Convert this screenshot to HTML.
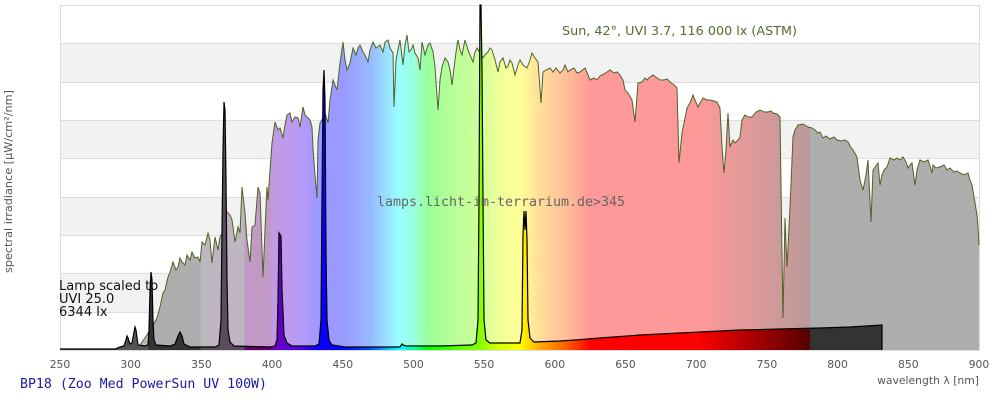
<!DOCTYPE html>
<html><head><meta charset="utf-8"><style>
html,body{margin:0;padding:0;background:#fff;}
svg{display:block;}
</style></head><body>
<svg width="1000" height="400" viewBox="0 0 1000 400" xmlns="http://www.w3.org/2000/svg">
<defs>
<linearGradient id="spec" gradientUnits="userSpaceOnUse" x1="60" y1="0" x2="979" y2="0">
<stop offset="0" stop-color="#555555"/>
<stop offset="0.09538" stop-color="#555555"/>
<stop offset="0.09692" stop-color="#333333"/>
<stop offset="0.15231" stop-color="#333333"/>
<stop offset="0.15385" stop-color="#5e4a60"/>
<stop offset="0.2" stop-color="#5e4a60"/>
<stop offset="0.20154" stop-color="#64006b"/>
<stop offset="0.22769" stop-color="#64006b"/>
<stop offset="0.23077" stop-color="#6b00b1"/>
<stop offset="0.26154" stop-color="#5000ed"/>
<stop offset="0.28" stop-color="#0a00ff"/>
<stop offset="0.30769" stop-color="#0000ff"/>
<stop offset="0.32308" stop-color="#002aff"/>
<stop offset="0.33846" stop-color="#0055ff"/>
<stop offset="0.35385" stop-color="#00aaff"/>
<stop offset="0.36923" stop-color="#00ffff"/>
<stop offset="0.38462" stop-color="#00ffaa"/>
<stop offset="0.4" stop-color="#00ff00"/>
<stop offset="0.41538" stop-color="#2aff00"/>
<stop offset="0.43077" stop-color="#55ff00"/>
<stop offset="0.45538" stop-color="#80ff00"/>
<stop offset="0.47692" stop-color="#d4ff00"/>
<stop offset="0.5" stop-color="#ffff00"/>
<stop offset="0.52308" stop-color="#ffaa00"/>
<stop offset="0.53846" stop-color="#ff8000"/>
<stop offset="0.55385" stop-color="#ff5500"/>
<stop offset="0.57692" stop-color="#ff0000"/>
<stop offset="0.69231" stop-color="#ff0000"/>
<stop offset="0.81538" stop-color="#550000"/>
<stop offset="0.81692" stop-color="#333333"/>
<stop offset="1" stop-color="#333333"/>
</linearGradient>
<clipPath id="sunClip"><polygon points="133,350 140,345 147,335 153,325 157,318 160,307 163,293 165,290 168,277 170,272 173,262 176,270 178,267 180,258 182,262 185,265 187,255 190,260 192,252 195,258 198,257 200,262 202,242 205,245 208,233 210,240 212,263 215,237 218,250 220,237 223,232 225,207 227,212 230,215 232,220 235,242 238,227 240,233 242,187 245,213 247,240 250,262 252,227 255,225 258,187 260,193 263,277 265,230 267,187 268,200 270,170 272,143 275,122 278,130 280,128 283,138 285,125 287,115 290,113 292,122 295,117 298,118 300,127 303,107 305,115 307,117 310,120 312,127 313,148 315,175 317,198 318,140 320,123 323,118 325,113 328,123 330,100 333,80 335,85 337,90 340,63 343,42 345,60 347,70 350,63 353,48 356,55 358,48 360,45 363,52 365,55 368,62 370,50 373,42 376,48 380,45 383,52 385,42 388,40 390,48 393,53 394,107 396,60 398,50 400,40 403,65 405,45 407,35 409,52 411,50 413,45 415,53 418,58 420,70 422,42 425,55 428,45 430,43 433,52 435,67 438,110 440,80 442,67 445,58 448,62 450,70 452,85 455,60 457,45 458,40 460,50 462,55 464,45 465,40 468,50 470,55 473,62 475,52 477,48 480,53 483,58 485,55 488,52 490,48 492,50 495,60 498,72 500,62 503,58 506,68 508,66 510,60 512,63 515,75 518,65 520,60 523,65 527,68 530,60 532,53 535,58 538,62 541,103 543,72 546,70 550,68 553,72 556,68 560,73 563,70 565,65 568,72 570,70 574,68 577,73 580,72 585,68 588,75 590,80 594,78 597,80 600,76 604,74 607,72 610,70 614,73 617,72 620,75 623,80 625,90 628,93 632,100 635,122 638,83 642,82 645,78 647,80 650,77 653,75 657,78 660,80 664,80 667,79 670,82 673,84 677,88 679,163 682,133 687,108 690,103 693,95 695,100 698,107 700,103 703,98 707,100 710,100 714,101 717,102 720,108 722,147 724,173 726,150 728,113 730,147 733,140 735,143 738,140 740,137 742,120 745,115 748,117 752,117 756,112 760,110 764,112 768,112 771,111 773,113 777,114 780,117 782,253 783,318 785,218 787,267 790,207 792,160 793,137 795,130 798,125 803,124 808,127 812,128 815,130 818,133 820,132 823,138 826,136 830,139 834,137 837,140 841,141 845,140 848,142 850,146 853,150 857,157 860,180 863,190 866,175 868,160 871,222 873,170 876,166 878,163 880,185 882,175 884,170 887,167 890,158 894,160 897,158 900,160 903,157 906,162 908,168 910,165 912,163 915,185 917,170 920,160 924,162 928,160 930,166 932,173 933,165 936,168 940,167 944,165 947,170 950,168 954,172 957,171 960,173 964,175 968,173 970,180 972,185 975,203 977,215 978,227 979,245 979,350"/></clipPath>
<clipPath id="lampClip"><polygon points="60,350 60,349 115,349 120,347 124,346 126,340 127,336 128,338 130,344 132,343 134,332 135,327 136,330 138,345 145,346 148,345 149,330 150,290 151,272 152,280 153,320 154,340 156,345 170,346 175,344 178,336 180,332 182,336 184,344 190,347 215,347 219,345 221,320 222,230 223,150 224,102 225,110 226,180 227,280 228,330 230,342 234,346 270,347 275,346 277,340 278,300 279,233 281,236 282,290 284,335 287,343 292,346 315,346 319,344 321,320 322,200 323,90 324,70 325,100 326,250 327,320 329,340 332,345 345,347 400,347 402,344 403,345 406,346 440,346 472,345 476,343 478,320 479,200 480,5 481,5 482,70 483,200 484,320 486,340 490,343 520,343 522,330 523,235 524,211 525,230 526,211 527,240 528,320 530,338 534,342 560,341 575,340 600,338 640,335 680,333 700,332 740,330 780,329 820,328 850,327 882,325 882,350"/></clipPath>
</defs>

<rect x="60" y="5" width="919" height="345" fill="#ffffff"/>
<rect x="60" y="43" width="919" height="39" fill="#f2f2f2"/>
<rect x="60" y="120" width="919" height="38" fill="#f2f2f2"/>
<rect x="60" y="197" width="919" height="38" fill="#f2f2f2"/>
<rect x="60" y="273" width="919" height="39" fill="#f2f2f2"/>
<g stroke="#dddddd" stroke-width="1">
<line x1="60" y1="43.5" x2="979" y2="43.5"/>
<line x1="60" y1="82.5" x2="979" y2="82.5"/>
<line x1="60" y1="120.5" x2="979" y2="120.5"/>
<line x1="60" y1="158.5" x2="979" y2="158.5"/>
<line x1="60" y1="197.5" x2="979" y2="197.5"/>
<line x1="60" y1="235.5" x2="979" y2="235.5"/>
<line x1="60" y1="273.5" x2="979" y2="273.5"/>
<line x1="60" y1="312.5" x2="979" y2="312.5"/>
</g>
<rect x="60.5" y="5.5" width="919" height="345" fill="none" stroke="#dddddd" stroke-width="1"/>

<g clip-path="url(#sunClip)">
<rect x="60" y="0" width="920" height="351" fill="#ffffff"/>
<rect x="60" y="0" width="920" height="351" fill="url(#spec)" opacity="0.4"/>
</g>
<polyline fill="none" stroke="#4f6228" stroke-width="1" points="133,350 140,345 147,335 153,325 157,318 160,307 163,293 165,290 168,277 170,272 173,262 176,270 178,267 180,258 182,262 185,265 187,255 190,260 192,252 195,258 198,257 200,262 202,242 205,245 208,233 210,240 212,263 215,237 218,250 220,237 223,232 225,207 227,212 230,215 232,220 235,242 238,227 240,233 242,187 245,213 247,240 250,262 252,227 255,225 258,187 260,193 263,277 265,230 267,187 268,200 270,170 272,143 275,122 278,130 280,128 283,138 285,125 287,115 290,113 292,122 295,117 298,118 300,127 303,107 305,115 307,117 310,120 312,127 313,148 315,175 317,198 318,140 320,123 323,118 325,113 328,123 330,100 333,80 335,85 337,90 340,63 343,42 345,60 347,70 350,63 353,48 356,55 358,48 360,45 363,52 365,55 368,62 370,50 373,42 376,48 380,45 383,52 385,42 388,40 390,48 393,53 394,107 396,60 398,50 400,40 403,65 405,45 407,35 409,52 411,50 413,45 415,53 418,58 420,70 422,42 425,55 428,45 430,43 433,52 435,67 438,110 440,80 442,67 445,58 448,62 450,70 452,85 455,60 457,45 458,40 460,50 462,55 464,45 465,40 468,50 470,55 473,62 475,52 477,48 480,53 483,58 485,55 488,52 490,48 492,50 495,60 498,72 500,62 503,58 506,68 508,66 510,60 512,63 515,75 518,65 520,60 523,65 527,68 530,60 532,53 535,58 538,62 541,103 543,72 546,70 550,68 553,72 556,68 560,73 563,70 565,65 568,72 570,70 574,68 577,73 580,72 585,68 588,75 590,80 594,78 597,80 600,76 604,74 607,72 610,70 614,73 617,72 620,75 623,80 625,90 628,93 632,100 635,122 638,83 642,82 645,78 647,80 650,77 653,75 657,78 660,80 664,80 667,79 670,82 673,84 677,88 679,163 682,133 687,108 690,103 693,95 695,100 698,107 700,103 703,98 707,100 710,100 714,101 717,102 720,108 722,147 724,173 726,150 728,113 730,147 733,140 735,143 738,140 740,137 742,120 745,115 748,117 752,117 756,112 760,110 764,112 768,112 771,111 773,113 777,114 780,117 782,253 783,318 785,218 787,267 790,207 792,160 793,137 795,130 798,125 803,124 808,127 812,128 815,130 818,133 820,132 823,138 826,136 830,139 834,137 837,140 841,141 845,140 848,142 850,146 853,150 857,157 860,180 863,190 866,175 868,160 871,222 873,170 876,166 878,163 880,185 882,175 884,170 887,167 890,158 894,160 897,158 900,160 903,157 906,162 908,168 910,165 912,163 915,185 917,170 920,160 924,162 928,160 930,166 932,173 933,165 936,168 940,167 944,165 947,170 950,168 954,172 957,171 960,173 964,175 968,173 970,180 972,185 975,203 977,215 978,227 979,245"/>

<g clip-path="url(#lampClip)">
<rect x="60" y="0" width="920" height="351" fill="url(#spec)"/>
</g>
<polyline fill="none" stroke="#000000" stroke-width="1.2" points="60,349 115,349 120,347 124,346 126,340 127,336 128,338 130,344 132,343 134,332 135,327 136,330 138,345 145,346 148,345 149,330 150,290 151,272 152,280 153,320 154,340 156,345 170,346 175,344 178,336 180,332 182,336 184,344 190,347 215,347 219,345 221,320 222,230 223,150 224,102 225,110 226,180 227,280 228,330 230,342 234,346 270,347 275,346 277,340 278,300 279,233 281,236 282,290 284,335 287,343 292,346 315,346 319,344 321,320 322,200 323,90 324,70 325,100 326,250 327,320 329,340 332,345 345,347 400,347 402,344 403,345 406,346 440,346 472,345 476,343 478,320 479,200 480,5 481,5 482,70 483,200 484,320 486,340 490,343 520,343 522,330 523,235 524,211 525,230 526,211 527,240 528,320 530,338 534,342 560,341 575,340 600,338 640,335 680,333 700,332 740,330 780,329 820,328 850,327 882,325 882,350"/>

<text x="562" y="35" font-family="DejaVu Sans, Liberation Sans, sans-serif" font-size="12.8" fill="#556b2f" textLength="235" lengthAdjust="spacingAndGlyphs">Sun, 42°, UVI 3.7, 116 000 lx (ASTM)</text>
<text x="377" y="206" font-family="DejaVu Sans Mono, Liberation Mono, monospace" font-size="13.3" fill="#666666" textLength="248" lengthAdjust="spacingAndGlyphs">lamps.licht-im-terrarium.de&gt;345</text>
<g font-family="DejaVu Sans, Liberation Sans, sans-serif" font-size="13" fill="#111111">
<text x="59" y="290">Lamp scaled to</text>
<text x="59" y="303">UVI 25.0</text>
<text x="59" y="316">6344 lx</text>
</g>
<g font-family="DejaVu Sans, Liberation Sans, sans-serif" font-size="10.8" fill="#555555" text-anchor="middle">
<text x="60" y="368">250</text>
<text x="130.7" y="368">300</text>
<text x="201.4" y="368">350</text>
<text x="272" y="368">400</text>
<text x="342.8" y="368">450</text>
<text x="413.4" y="368">500</text>
<text x="484" y="368">550</text>
<text x="554.8" y="368">600</text>
<text x="625.5" y="368">650</text>
<text x="696.2" y="368">700</text>
<text x="766.9" y="368">750</text>
<text x="837.6" y="368">800</text>
<text x="908.3" y="368">850</text>
<text x="979" y="368">900</text>
</g>
<text x="979" y="384" text-anchor="end" font-family="DejaVu Sans, Liberation Sans, sans-serif" font-size="10.8" fill="#555555">wavelength λ [nm]</text>
<text transform="translate(12,181.5) rotate(-90)" text-anchor="middle" font-family="DejaVu Sans, Liberation Sans, sans-serif" font-size="10.8" fill="#555555" textLength="183" lengthAdjust="spacingAndGlyphs">spectral irradiance [µW/cm²/nm]</text>
<text x="20" y="388" font-family="DejaVu Sans Mono, Liberation Mono, monospace" font-size="13.2" fill="#1a1aa0" textLength="247" lengthAdjust="spacingAndGlyphs">BP18 (Zoo Med PowerSun UV 100W)</text>
</svg>
</body></html>
